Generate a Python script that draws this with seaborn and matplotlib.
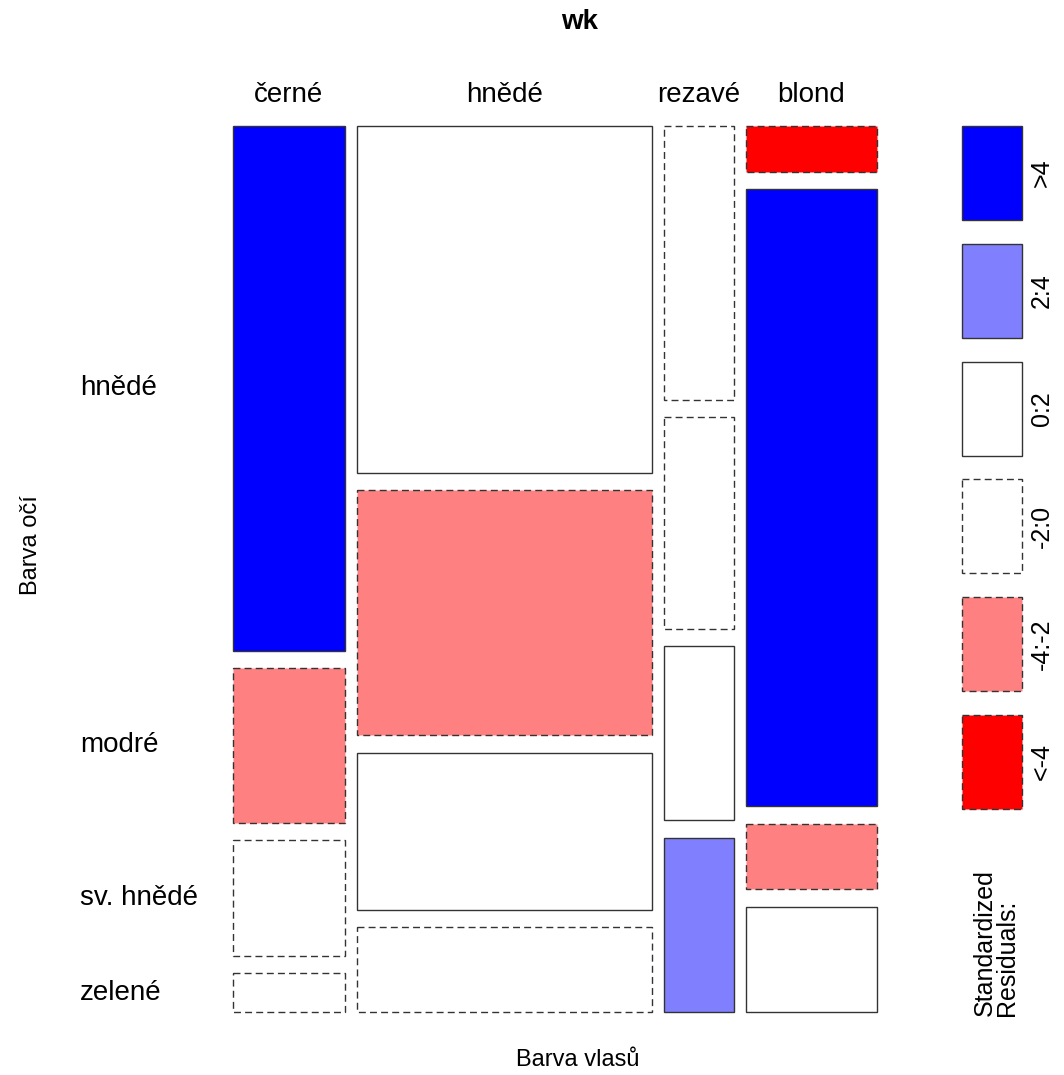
import numpy as np
import matplotlib.pyplot as plt
import matplotlib.patches as mpatches
import seaborn as sns

sns.set_theme(style="white")
plt.rcParams['font.family'] = ['Liberation Sans', 'DejaVu Sans']
plt.rcParams['text.color'] = 'black'

# data (hair colour columns, eye colour rows)
hair = ["černé", "hnědé", "rezavé", "blond"]
eye = ["hnědé", "modré", "sv. hnědé", "zelené"]
counts = {
    "černé": [68, 20, 15, 5],
    "hnědé": [119, 84, 54, 29],
    "rezavé": [22, 17, 14, 14],
    "blond": [7, 94, 10, 16],
}
# residual class of each cell, as shaded in the picture
shade = {
    "černé": [">4", "-4:-2", "-2:0", "-2:0"],
    "hnědé": ["0:2", "-4:-2", "0:2", "-2:0"],
    "rezavé": ["-2:0", "-2:0", "0:2", "2:4"],
    "blond": ["<-4", ">4", "-4:-2", "0:2"],
}
bins = [">4", "2:4", "0:2", "-2:0", "-4:-2", "<-4"]
fills = {">4": "#0000FF", "2:4": "#8080FF", "0:2": "white",
         "-2:0": "white", "-4:-2": "#FF8080", "<-4": "#FF0000"}
dashed = {">4": False, "2:4": False, "0:2": False,
          "-2:0": True, "-4:-2": True, "<-4": True}

W, H = 1064, 1075
fig = plt.figure(figsize=(W / 100, H / 100), dpi=100)
ax = fig.add_axes([0, 0, 1, 1])
ax.set_xlim(0, W)
ax.set_ylim(H, 0)
ax.axis('off')

x0, x1 = 233, 877
y0, y1 = 126, 1012
xgap, ygap = 12, 17.5

totals = np.array([sum(counts[h]) for h in hair], dtype=float)
avail_w = (x1 - x0) - xgap * (len(hair) - 1)
widths = totals / totals.sum() * avail_w

def draw_box(ax, x, y, w, h, cls):
    ls = (0, (5, 3)) if dashed[cls] else '-'
    ax.add_patch(mpatches.Rectangle((x, y), w, h, facecolor=fills[cls],
                                    edgecolor='#333333', linewidth=1.0,
                                    linestyle=ls))

x = x0
for i, h in enumerate(hair):
    vals = np.array(counts[h], dtype=float)
    avail_h = (y1 - y0) - ygap * (len(eye) - 1)
    heights = vals / vals.sum() * avail_h
    y = y0
    for j in range(len(eye)):
        draw_box(ax, x, y, widths[i], heights[j], shade[h][j])
        if i == 0:
            ax.text(80, y + heights[j] / 2, eye[j], fontsize=20,
                    ha='left', va='center')
        y += heights[j] + ygap
    ax.text(x + widths[i] / 2, 95, h, fontsize=20, ha='center', va='center')
    x += widths[i] + xgap

# legend of standardized residuals
lx, lw, lh, lstep = 962, 60, 94, 117.8
for k, cls in enumerate(bins):
    ly = 126 + k * lstep
    draw_box(ax, lx, ly, lw, lh, cls)
    ax.text(1042, ly + lh / 2, cls, fontsize=18, rotation=90,
            ha='center', va='center')
ax.text(996, 1016, "Standardized\nResiduals:", fontsize=18, rotation=90,
        ha='center', va='bottom', multialignment='left', linespacing=0.9)

ax.text(580, 22, "wk", fontsize=20, fontweight='bold', ha='center', va='center')
ax.text(578, 1060, "Barva vlasů", fontsize=17, ha='center', va='center')
ax.text(31, 545, "Barva očí", fontsize=17, rotation=90, ha='center', va='center')

fig.savefig("out.png", dpi=100)
